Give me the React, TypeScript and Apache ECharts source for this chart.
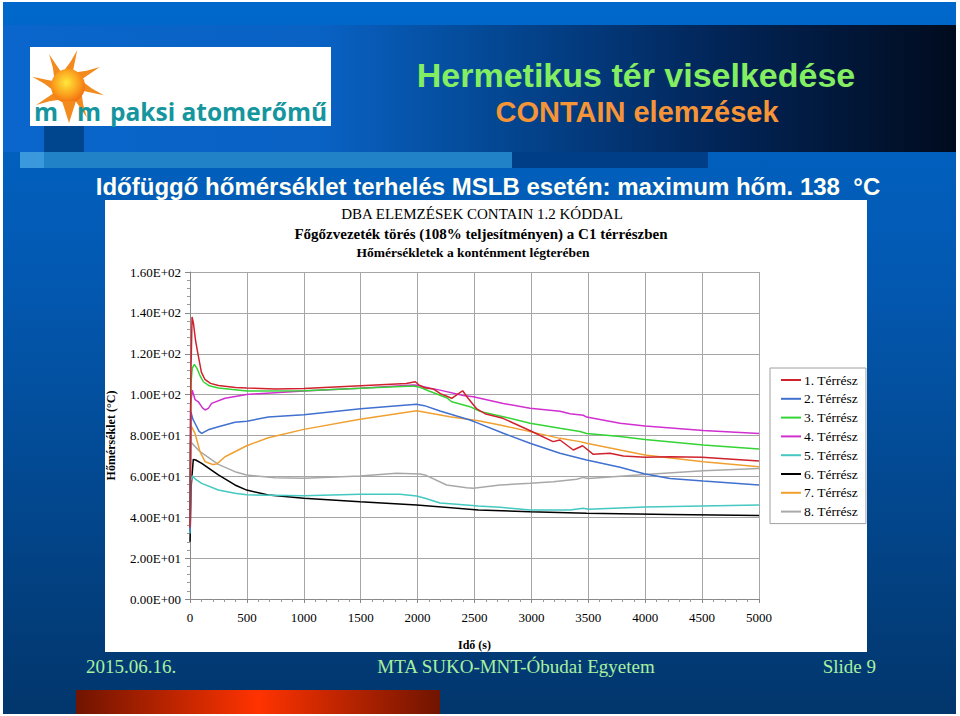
import React, { useEffect, useRef } from "react";
import * as echarts from "echarts";

const seriesNames = [
  "1. Térrész", "2. Térrész", "3. Térrész", "4. Térrész",
  "5. Térrész", "6. Térrész", "7. Térrész", "8. Térrész",
];
const seriesColors = ["#d0222e", "#4070d0", "#33d433", "#d030d0", "#44c8c0", "#000000", "#f0a030", "#a8a8a8"];

const yTicks = [0, 20, 40, 60, 80, 100, 120, 140, 160];
const xTicks = [0, 500, 1000, 1500, 2000, 2500, 3000, 3500, 4000, 4500, 5000];

const zone1 = [[0,35],[8,110],[18,138],[30,135],[50,126],[73,119],[100,111],[130,107.5],[180,105.5],[250,104.5],[400,103.5],[500,103.2],[750,102.8],[1000,103],[1500,104.4],[1900,105.4],[1980,106.3],[2010,104.8],[2060,103.4],[2140,102.7],[2200,100.5],[2300,98.2],[2360,100.5],[2396,101.9],[2440,98.5],[2520,93],[2600,90.5],[2750,88.4],[2990,82.3],[3190,77.0],[3251,77.8],[3368,72.9],[3450,75.0],[3544,70.8],[3690,71.3],[3808,70.0],[4000,69.3],[4218,69.6],[4500,69.3],[4700,68.6],[5000,67.5]];
const zone2 = [[0,33],[8,91.5],[25,88],[44,86],[80,82],[103,81],[160,82.8],[249,84.3],[395,86.5],[500,87],[688,89],[1000,90.2],[1500,93.1],[1990,95.3],[2060,94.6],[2197,92.0],[2343,89.5],[2460,87.6],[2519,86.3],[2753,81.1],[2988,76.2],[3251,71.3],[3485,68.0],[3779,64.5],[3990,61.3],[4218,59.0],[4510,57.7],[5000,55.8]];
const zone3 = [[0,35],[8,105],[20,113],[38,114.8],[60,113],[90,109],[117,106.3],[170,104.3],[249,103.2],[500,101.8],[1000,101.9],[1500,103.1],[1962,104.2],[2021,103.6],[2100,101.8],[2255,98.5],[2300,96.5],[2460,94.1],[2548,91.8],[2753,89.2],[2988,86.0],[3251,83.5],[3427,82.0],[3485,81.0],[3779,79.5],[3998,78.0],[4510,75.3],[5000,73.4]];
const zone4 = [[0,35],[5,95],[20,102.2],[45,97.5],[73,96.5],[110,93.5],[132,92.5],[161,93.3],[190,95.7],[308,98.2],[498,100.1],[1000,101.8],[1494,103.1],[1962,104.7],[2000,104.6],[2109,103.1],[2197,102.2],[2402,99.6],[2489,99.0],[2753,95.7],[2988,93.3],[3251,91.9],[3339,90.6],[3456,89.9],[3485,89.0],[3779,86.0],[3998,84.6],[4510,82.5],[5000,81.0]];
const zone5 = [[0,32],[8,58],[20,60.3],[50,58.5],[103,56.6],[249,53.3],[395,51.7],[498,51.0],[1000,50.5],[1494,51.3],[1845,51.2],[1992,50.4],[2065,49.3],[2197,47.0],[2343,46.4],[2534,45.5],[2724,44.9],[2988,43.5],[3339,43.6],[3456,44.4],[3500,43.9],[3998,45.0],[5000,46.0]];
const zone6 = [[0,28],[10,55],[29,68.3],[50,68],[103,66.4],[249,60.7],[395,55.8],[498,53.3],[688,50.9],[1000,49.3],[1494,47.6],[1992,46.0],[2534,43.6],[2988,42.7],[3485,41.9],[4218,41.4],[5000,40.8]];
const zone7 = [[0,40],[9,84.8],[44,81.0],[88,72.1],[132,67.2],[200,65.8],[234,66.0],[308,69.6],[498,75.0],[688,78.9],[1000,83.0],[1494,88.0],[1992,92.1],[2284,89.2],[2534,87.2],[2724,85.1],[2988,81.9],[3251,78.6],[3427,77.0],[3485,76.2],[3998,70.5],[4510,67.2],[5000,64.7]];
const zone8 = [[0,36],[4,77],[88,72.1],[249,65.9],[395,62.3],[498,60.7],[747,59.3],[1000,59.1],[1494,60.2],[1816,61.5],[2021,61.2],[2065,60.7],[2255,55.8],[2431,54.4],[2489,54.2],[2724,55.8],[2988,56.6],[3193,57.4],[3398,58.6],[3456,59.5],[3500,59.0],[3998,60.9],[4510,62.7],[5000,63.8]];
const zones = [zone1, zone2, zone3, zone4, zone5, zone6, zone7, zone8];

const slideTitle = "Hermetikus tér viselkedése";
const slideSubtitle = "CONTAIN elemzések";
const slideHeading = "Időfüggő hőmérséklet terhelés MSLB esetén: maximum hőm. 138  °C";
const chartTitle1 = "DBA ELEMZÉSEK CONTAIN 1.2 KÓDDAL";
const chartTitle2 = "Főgőzvezeték törés (108% teljesítményen) a C1 térrészben";
const chartTitle3 = "Hőmérsékletek a konténment légterében";
const yName = "Hőmérséklet (°C)";
const xName = "Idő (s)";
const footerDate = "2015.06.16.";
const footerOrg = "MTA SUKO-MNT-Óbudai Egyetem";
const footerSlide = "Slide 9";
const logoText = "paksi atomerőmű";

function sci(v: number): string {
  if (v === 0) return "0.00E+00";
  const e = Math.floor(Math.log10(Math.abs(v)) + 1e-9);
  const m = v / Math.pow(10, e);
  const sign = e < 0 ? "-" : "+";
  return `${m.toFixed(2)}E${sign}${String(Math.abs(e)).padStart(2, "0")}`;
}

const SERIF = "'Liberation Serif', 'Times New Roman', serif";
const SANS = "'Liberation Sans', Arial, sans-serif";
const LOGOFONT = "bold 24.5px 'Open Sans', sans-serif";

function sunRays(cx: number, cy: number) {
  const rays: any[] = [];
  for (let i = 0; i < 8; i++) {
    if (i === 4) continue;
    const a = (i * Math.PI) / 4 - Math.PI / 2;
    const r0 = 15, r1 = 37, hw = 0.33, twist = 0.25;
    const p1 = [cx + r0 * Math.cos(a - hw), cy + r0 * Math.sin(a - hw)];
    const p2 = [cx + r0 * Math.cos(a + hw), cy + r0 * Math.sin(a + hw)];
    const mid = [cx + (r0 + 9) * Math.cos(a + twist * 0.4), cy + (r0 + 9) * Math.sin(a + twist * 0.4)];
    const tip = [cx + r1 * Math.cos(a + twist), cy + r1 * Math.sin(a + twist)];
    rays.push({
      type: "polygon",
      shape: { points: [p1, mid, tip, p2] },
      style: { fill: "#f28a1e" },
      z: -50,
    });
  }
  return rays;
}

export default function App() {
  const ref = useRef<HTMLDivElement>(null);
  useEffect(() => {
    if (!ref.current) return;
    const chart = echarts.init(ref.current, undefined, { renderer: "svg" });
    const LG = echarts.graphic.LinearGradient;
    const RG = echarts.graphic.RadialGradient;
    const bgEls: any[] = [
      { type: "rect", shape: { x: 0, y: 0, width: 960, height: 716 }, style: { fill: "#ffffff" }, z: -100 },
      {
        type: "rect", shape: { x: 3, y: 2, width: 953, height: 712 },
        style: { fill: new LG(0, 0, 0, 1, [
          { offset: 0, color: "#0068cc" }, { offset: 0.4, color: "#0358b0" }, { offset: 1, color: "#02366c" },
        ]) }, z: -99,
      },
      {
        type: "rect", shape: { x: 3, y: 25, width: 953, height: 127 },
        style: { fill: new LG(0, 0, 1, 0, [
          { offset: 0, color: "#0a66cc" }, { offset: 0.33, color: "#0962c4" }, { offset: 0.5, color: "#044a98" },
          { offset: 0.75, color: "#022558" }, { offset: 1, color: "#010b1e" },
        ]) }, z: -98,
      },
      { type: "rect", shape: { x: 44, y: 126, width: 40, height: 26 }, style: { fill: "#00468f" }, z: -97 },
      { type: "rect", shape: { x: 20, y: 152, width: 24, height: 16 }, style: { fill: "#3a98dc" }, z: -97 },
      { type: "rect", shape: { x: 44, y: 152, width: 468, height: 16 }, style: { fill: "#2282c8" }, z: -97 },
      { type: "rect", shape: { x: 512, y: 152, width: 196, height: 16 }, style: { fill: "#003f88" }, z: -97 },
      {
        type: "rect", shape: { x: 76, y: 690, width: 364, height: 24 },
        style: { fill: new LG(0, 0, 1, 0, [
          { offset: 0, color: "#701400" }, { offset: 0.5, color: "#ff3300" }, { offset: 1, color: "#701400" },
        ]) }, z: -97,
      },
      { type: "rect", shape: { x: 105, y: 200, width: 762, height: 452 }, style: { fill: "#ffffff" }, z: -90 },
      // logo
      { type: "rect", shape: { x: 30, y: 47, width: 301, height: 79 }, style: { fill: "#ffffff" }, z: -60 },
      ...sunRays(68, 86),
      {
        type: "circle", shape: { cx: 68, cy: 86, r: 17 },
        style: { fill: new RG(0.45, 0.4, 0.6, [
          { offset: 0, color: "#ffe83a" }, { offset: 0.6, color: "#fba21e" }, { offset: 1, color: "#f27010" },
        ]) }, z: -49,
      },
      {
        type: "polygon", shape: { points: [[62, 101], [76, 101], [69, 123]] },
        style: { fill: "#f28a1e" }, z: -48,
      },
      { type: "text", x: 34, y: 124, style: { text: "m", fill: "#15959d", font: LOGOFONT, textVerticalAlign: "bottom" }, z: -47 },
      { type: "text", x: 77, y: 124, style: { text: "m", fill: "#15959d", font: LOGOFONT, textVerticalAlign: "bottom" }, z: -47 },
      { type: "text", x: 110, y: 124, style: { text: logoText, fill: "#15959d", font: LOGOFONT, textVerticalAlign: "bottom" }, z: -47 },
    ];
    const textEls: any[] = [
      { type: "text", x: 636, y: 75, style: { text: slideTitle, fill: "#84ee62", font: `bold 34px ${SANS}`, textAlign: "center", textVerticalAlign: "middle" }, z: 10 },
      { type: "text", x: 637, y: 112, style: { text: slideSubtitle, fill: "#f59538", font: `bold 29px ${SANS}`, textAlign: "center", textVerticalAlign: "middle" }, z: 10 },
      { type: "text", x: 488, y: 186, style: { text: slideHeading, fill: "#fffff2", font: `bold 24px ${SANS}`, textAlign: "center", textVerticalAlign: "middle" }, z: 10 },
      { type: "text", x: 482, y: 214, style: { text: chartTitle1, fill: "#000", font: `15px ${SERIF}`, textAlign: "center", textVerticalAlign: "middle" }, z: 10 },
      { type: "text", x: 481, y: 234, style: { text: chartTitle2, fill: "#000", font: `bold 15px ${SERIF}`, textAlign: "center", textVerticalAlign: "middle" }, z: 10 },
      { type: "text", x: 473, y: 252, style: { text: chartTitle3, fill: "#000", font: `bold 13.5px ${SERIF}`, textAlign: "center", textVerticalAlign: "middle" }, z: 10 },
      { type: "text", x: 86, y: 666, style: { text: footerDate, fill: "#a8f0a0", font: `19px ${SERIF}`, textAlign: "left", textVerticalAlign: "middle" }, z: 10 },
      { type: "text", x: 516, y: 666, style: { text: footerOrg, fill: "#a8f0a0", font: `19px ${SERIF}`, textAlign: "center", textVerticalAlign: "middle" }, z: 10 },
      { type: "text", x: 876, y: 666, style: { text: footerSlide, fill: "#a8f0a0", font: `19px ${SERIF}`, textAlign: "right", textVerticalAlign: "middle" }, z: 10 },
    ];

    chart.setOption({
      animation: false,
      backgroundColor: "#ffffff",
      graphic: { elements: [...bgEls, ...textEls] },
      grid: { left: 190, top: 272, width: 569, height: 327, containLabel: false },
      legend: {
        orient: "vertical",
        left: 770,
        top: 368,
        icon: "rect",
        itemWidth: 20,
        itemHeight: 2,
        itemGap: 4.8,
        padding: [5, 8, 5, 11],
        backgroundColor: "#ffffff",
        borderColor: "#a0a0a0",
        borderWidth: 1,
        borderRadius: 0,
        textStyle: { fontFamily: SERIF, fontSize: 13.5, color: "#000", lineHeight: 14, padding: [0, 0, 0, -2] },
        data: seriesNames,
      },
      xAxis: {
        type: "value",
        min: xTicks[0],
        max: xTicks[xTicks.length - 1],
        interval: xTicks[1] - xTicks[0],
        name: xName,
        nameLocation: "middle",
        nameGap: 40,
        nameTextStyle: { fontFamily: SERIF, fontSize: 12, fontWeight: "bold", color: "#000" },
        axisLine: { show: true, lineStyle: { color: "#888", width: 1 } },
        axisTick: { show: true, length: 4, lineStyle: { color: "#888" } },
        minorTick: { show: true, splitNumber: 5, length: 3, lineStyle: { color: "#999" } },
        axisLabel: { fontFamily: SERIF, fontSize: 13, color: "#000", margin: 12, formatter: (v: number) => String(v) },
        splitLine: { show: true, lineStyle: { color: "#a6a6a6", width: 1 } },
      },
      yAxis: {
        type: "value",
        min: yTicks[0],
        max: yTicks[yTicks.length - 1],
        interval: yTicks[1] - yTicks[0],
        name: yName,
        nameLocation: "middle",
        nameGap: 73,
        nameTextStyle: { fontFamily: SERIF, fontSize: 12, fontWeight: "bold", color: "#000" },
        axisLine: { show: true, lineStyle: { color: "#888", width: 1 } },
        axisTick: { show: true, length: 5, lineStyle: { color: "#888" } },
        minorTick: { show: true, splitNumber: 5, length: 3, lineStyle: { color: "#999" } },
        axisLabel: { fontFamily: SERIF, fontSize: 13, color: "#000", margin: 9, formatter: (v: number) => sci(v) },
        splitLine: { show: true, lineStyle: { color: "#a6a6a6", width: 1 } },
      },
      series: zones.map((d, i) => ({
        name: seriesNames[i],
        type: "line",
        data: d,
        showSymbol: false,
        symbol: "none",
        color: seriesColors[i],
        lineStyle: { color: seriesColors[i], width: 1.5 },
        z: 2 + (7 - i) * 0.01,
      })),
    });
    return () => chart.dispose();
  }, []);
  return <div ref={ref} style={{ position: "fixed", left: 0, top: 0, width: 960, height: 716 }} />;
}
